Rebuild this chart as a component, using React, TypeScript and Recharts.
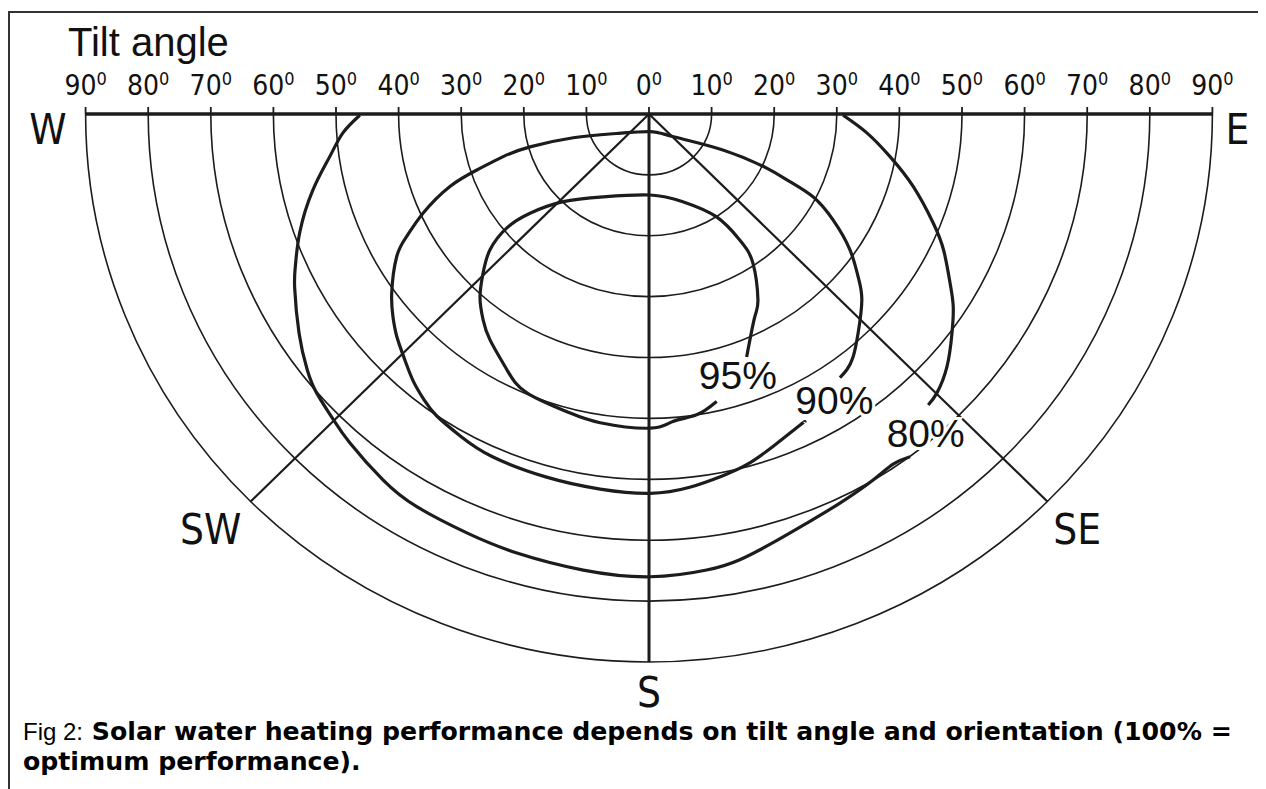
import React from 'react';
import {
  ComposedChart,
  Line,
  XAxis,
  YAxis,
  ReferenceArea,
  ReferenceLine,
  ReferenceDot,
} from 'recharts';

// ---- axis / grid definitions (tilt angle in degrees) ----
const tiltTicks = [-90, -80, -70, -60, -50, -40, -30, -20, -10, 0, 10, 20, 30, 40, 50, 60, 70, 80, 90];
const tiltCircles = [10, 20, 30, 40, 50, 60, 70, 80, 90];
const maxTilt = 90;
// orientation rays, degrees away from South (negative = towards West)
const orientationRays = [-45, 0, 45];

// ---- performance contours (x: E-W offset, y: down from the W-E line, in tilt-degree units) ----
const contour95 = [
  { x: 15.6, y: 39.9 }, { x: 16.9, y: 33.3 }, { x: 17.4, y: 30.5 }, { x: 16.6, y: 24.5 },
  { x: 14.5, y: 20.7 }, { x: 10.8, y: 16.9 }, { x: 5.4, y: 14.4 }, { x: 0.2, y: 13.3 },
  { x: -7.3, y: 13.6 }, { x: -13.7, y: 14.4 }, { x: -19.0, y: 16.3 }, { x: -22.7, y: 18.7 },
  { x: -25.4, y: 22.3 }, { x: -26.5, y: 26.1 }, { x: -27.0, y: 30.1 }, { x: -26.5, y: 33.8 },
  { x: -25.4, y: 37.1 }, { x: -22.7, y: 42.0 }, { x: -19.5, y: 45.8 }, { x: -13.1, y: 48.9 },
  { x: -7.8, y: 50.7 }, { x: 0.2, y: 51.6 }, { x: 3.8, y: 50.5 }, { x: 7.6, y: 49.4 },
  { x: 10.8, y: 47.2 },
];

const contour90 = [
  { x: 30.5, y: 43.3 }, { x: 31.6, y: 42.0 }, { x: 32.6, y: 39.9 }, { x: 33.4, y: 36.0 },
  { x: 34.0, y: 30.5 }, { x: 33.4, y: 26.7 }, { x: 32.1, y: 22.3 }, { x: 29.4, y: 17.4 },
  { x: 26.2, y: 13.6 }, { x: 22.5, y: 11.1 }, { x: 18.8, y: 8.9 }, { x: 11.8, y: 5.9 },
  { x: 3.8, y: 3.7 }, { x: 0.2, y: 2.9 }, { x: -5.2, y: 3.2 }, { x: -12.1, y: 3.9 },
  { x: -19.0, y: 5.4 }, { x: -23.3, y: 7.0 }, { x: -27.5, y: 9.2 }, { x: -31.8, y: 11.9 },
  { x: -36.1, y: 16.3 }, { x: -38.7, y: 20.1 }, { x: -40.3, y: 23.4 }, { x: -41.1, y: 29.4 },
  { x: -40.9, y: 33.3 }, { x: -40.3, y: 36.5 }, { x: -39.0, y: 40.4 }, { x: -37.6, y: 44.0 },
  { x: -35.9, y: 47.0 }, { x: -33.9, y: 49.6 }, { x: -30.0, y: 53.0 }, { x: -25.0, y: 56.3 },
  { x: -16.5, y: 59.6 }, { x: -7.8, y: 61.6 }, { x: 0.2, y: 62.3 }, { x: 6.5, y: 61.3 },
  { x: 11.8, y: 59.4 }, { x: 15.6, y: 57.6 }, { x: 19.8, y: 54.6 }, { x: 24.1, y: 51.1 },
  { x: 24.9, y: 50.6 },
];

const contour80West = [
  { x: -46.2, y: 0.2 }, { x: -48.9, y: 3.1 }, { x: -51.0, y: 7.0 }, { x: -53.7, y: 12.5 },
  { x: -55.8, y: 19.5 }, { x: -56.5, y: 25.1 }, { x: -56.6, y: 28.6 }, { x: -55.9, y: 36.0 },
  { x: -54.6, y: 42.0 }, { x: -53.1, y: 45.8 }, { x: -50.6, y: 49.9 }, { x: -47.8, y: 54.0 },
  { x: -42.5, y: 60.1 }, { x: -37.1, y: 64.5 }, { x: -29.1, y: 68.8 }, { x: -21.1, y: 72.1 },
  { x: -10.5, y: 74.9 }, { x: 0.2, y: 76.0 }, { x: 9.2, y: 74.9 }, { x: 14.5, y: 73.2 },
  { x: 19.8, y: 70.4 }, { x: 25.2, y: 67.2 }, { x: 30.5, y: 63.9 }, { x: 35.8, y: 60.1 },
  { x: 39.0, y: 57.5 }, { x: 41.7, y: 56.3 },
];

const contour80East = [
  { x: 31.0, y: 0.2 }, { x: 34.8, y: 3.1 }, { x: 38.5, y: 7.0 }, { x: 42.2, y: 11.9 },
  { x: 45.4, y: 17.9 }, { x: 47.1, y: 22.5 }, { x: 48.1, y: 27.8 }, { x: 48.6, y: 31.6 },
  { x: 48.4, y: 36.0 }, { x: 47.6, y: 41.5 }, { x: 46.0, y: 45.8 }, { x: 44.6, y: 47.8 },
];

const contourLabels = [
  { text: '95%', x: 14.2, y: 43.0 },
  { text: '90%', x: 29.6, y: 47.1 },
  { text: '80%', x: 44.2, y: 52.4 },
];

const compassLabels = [
  { text: 'W', x: -96.0, y: 2.6 },
  { text: 'E', x: 94.0, y: 2.6 },
  { text: 'SW', x: -70.0, y: 68.3 },
  { text: 'SE', x: 68.4, y: 68.3 },
  { text: 'S', x: 0, y: 95.0 },
];

const INK = '#1c1c1c';
const NARROW = '"Liberation Sans Narrow", "DejaVu Sans Condensed", "Arial Narrow", sans-serif';
const SANS = '"Liberation Sans", Arial, Helvetica, sans-serif';

const TiltTick = (p: any) => {
  const { x, y, payload } = p;
  return (
    <text x={x} y={y} textAnchor="middle" fontFamily={NARROW} fontSize={28} fill="#111">
      {Math.abs(payload.value)}
      <tspan dy={-10} fontSize={18}>0</tspan>
    </text>
  );
};

const HalfArc = (p: any) => {
  const { x, y, width, height } = p;
  if (width == null || height == null) return null;
  return (
    <path
      d={`M ${x} ${y} A ${width / 2} ${height} 0 0 0 ${x + width} ${y}`}
      fill="none"
      stroke={INK}
      strokeWidth={1.6}
    />
  );
};

const makeTextShape = (text: string, font: string, size: number, halo: boolean) => (p: any) => (
  <text
    x={p.cx}
    y={p.cy}
    textAnchor="middle"
    dominantBaseline="central"
    fontFamily={font}
    fontSize={size}
    fill="#111"
    stroke={halo ? '#fff' : 'none'}
    strokeWidth={halo ? 6 : 0}
    paintOrder="stroke"
  >
    {text}
  </text>
);

export default function App() {
  const rad = Math.PI / 180;
  return (
    <div style={{ position: 'relative', width: 1258, height: 781, overflow: 'hidden', marginRight: -8 }}>
      <style>{'html,body{overflow:hidden;background:#fff}'}</style>
      <div
        style={{
          position: 'absolute',
          left: 0,
          top: 3,
          width: 1320,
          height: 900,
          borderLeft: '2px solid #333',
          borderTop: '2px solid #333',
        }}
      />
      <div
        style={{
          position: 'absolute',
          left: 60,
          top: 14.2,
          fontFamily: SANS,
          fontSize: 40,
          lineHeight: '40px',
          color: '#111',
          whiteSpace: 'nowrap',
        }}
      >
        Tilt angle
      </div>
      <div style={{ position: 'absolute', left: -8, top: -8 }}>
        <ComposedChart
          width={1266}
          height={789}
          margin={{ top: 84, left: 85.6, right: 53.6, bottom: 127 }}
        >
          <XAxis
            xAxisId={0}
            type="number"
            dataKey="x"
            orientation="top"
            domain={[-90, 90]}
            allowDataOverflow
            ticks={tiltTicks}
            interval={0}
            height={30}
            tickSize={7}
            tickMargin={12}
            tick={<TiltTick />}
            axisLine={{ stroke: INK, strokeWidth: 3.5 }}
            tickLine={{ stroke: INK, strokeWidth: 1.8 }}
          />
          <YAxis yAxisId={0} type="number" dataKey="y" domain={[0, 90]} allowDataOverflow reversed hide />

          {tiltCircles.map((t) => (
            <ReferenceArea
              key={`arc-${t}`}
              x1={-t}
              x2={t}
              y1={0}
              y2={t}
              ifOverflow="visible"
              shape={<HalfArc />}
            />
          ))}

          {orientationRays.map((a) => (
            <ReferenceLine
              key={`ray-${a}`}
              segment={[
                { x: 0, y: 0 },
                { x: maxTilt * Math.sin(a * rad), y: maxTilt * Math.cos(a * rad) },
              ]}
              stroke={INK}
              strokeWidth={a === 0 ? 3 : 2.2}
              ifOverflow="visible"
            />
          ))}

          <Line data={contour95} dataKey="y" type="natural" stroke={INK} strokeWidth={3.2} dot={false} isAnimationActive={false} />
          <Line data={contour90} dataKey="y" type="natural" stroke={INK} strokeWidth={3.2} dot={false} isAnimationActive={false} />
          <Line data={contour80West} dataKey="y" type="natural" stroke={INK} strokeWidth={3.2} dot={false} isAnimationActive={false} />
          <Line data={contour80East} dataKey="y" type="natural" stroke={INK} strokeWidth={3.2} dot={false} isAnimationActive={false} />

          {contourLabels.map((l) => (
            <ReferenceDot
              key={l.text}
              x={l.x}
              y={l.y}
              r={0}
              ifOverflow="visible"
              shape={makeTextShape(l.text, SANS, 39, true)}
            />
          ))}
          {compassLabels.map((l) => (
            <ReferenceDot
              key={l.text}
              x={l.x}
              y={l.y}
              r={0}
              ifOverflow="visible"
              shape={makeTextShape(l.text, NARROW, 42, false)}
            />
          ))}
        </ComposedChart>
      </div>
      <div
        style={{
          position: 'absolute',
          left: 15,
          top: 709.3,
          fontFamily: '"DejaVu Sans", Verdana, sans-serif',
          fontSize: 25.2,
          lineHeight: '30px',
          color: '#000',
          whiteSpace: 'nowrap',
        }}
      >
        <span style={{ fontFamily: SANS, fontSize: 24 }}>Fig 2:</span>
        <b> Solar water heating performance depends on tilt angle and orientation (100% =</b>
        <br />
        <b>optimum performance).</b>
      </div>
    </div>
  );
}
